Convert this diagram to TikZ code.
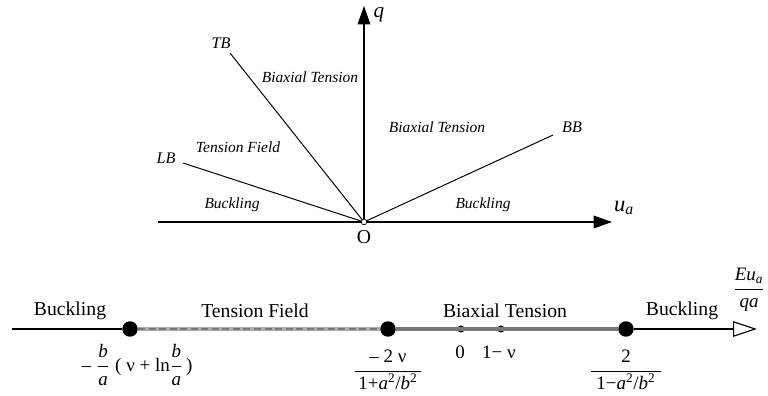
\documentclass[tikz,border=0pt]{standalone}
\usepackage{amsmath}
\usepackage{fontspec}
\setmainfont{Liberation Serif}
\usetikzlibrary{arrows.meta}
\definecolor{bandcol}{RGB}{120,120,120}
\definecolor{dashcol}{RGB}{175,175,175}
\newcommand{\vit}[1]{\textit{#1}}
\newcommand{\tfr}[2]{$\dfrac{\text{#1}}{\text{#2}}$}
\tikzset{
  ax/.style={line width=0.8pt},
  ray/.style={line width=0.7pt},
  reg/.style={font=\fontsize{11}{13}\selectfont\itshape},
  tag/.style={font=\fontsize{11.5}{13}\selectfont\itshape},
  zone/.style={font=\fontsize{14}{16}\selectfont},
  val/.style={font=\fontsize{13.5}{15}\selectfont},
  bigdot/.style={circle,fill=black,inner sep=0pt,minimum size=11},
  smalldot/.style={circle,fill=black,inner sep=0pt,minimum size=5}
}
\begin{document}
\begin{tikzpicture}[x=0.25mm,y=0.25mm]
  \useasboundingbox (0,0) rectangle (768,395);
  % upper diagram: q over u_a
  \coordinate (O) at (364,173);
  \coordinate (xl) at (158,173);\coordinate (xr) at (612,173);
  \coordinate (yt) at (364,389);
  \coordinate (tb) at (230,342);\coordinate (lb) at (183,232);\coordinate (bb) at (553,260);
  \draw[ax,-{Triangle[length=13,width=9]}] (xl)--(xr);
  \draw[ax,-{Triangle[length=13,width=9]}] (O)--(yt);
  \draw[ray] (tb)--(O);
  \draw[ray] (lb)--(O);
  \draw[ray] (bb)--(O);
  \node[circle,draw,fill=white,inner sep=0pt,minimum size=4,line width=0.5pt] (o) at (O) {};
  \node[font=\fontsize{14}{16}\selectfont] (olab) at (364,158) {O};
  \node[font=\fontsize{15}{17}\selectfont\itshape,inner sep=0pt] (qlab) at (379,380) {q};
  \node[font=\fontsize{16}{18}\selectfont] (ulab) at (624,187) {\vit{u}\textsubscript{\vit{a}}};
  \node[tag] (tbl) at (221,352) {TB};
  \node[tag] (lbl) at (166,237) {LB};
  \node[tag] (bbl) at (572,268) {BB};
  \node[reg] (bt1) at (310,318) {Biaxial Tension};
  \node[reg] (bt2) at (437,268) {Biaxial Tension};
  \node[reg] (tf) at (238,248) {Tension Field};
  \node[reg] (bk1) at (232,190) {Buckling};
  \node[reg] (bk2) at (483,190) {Buckling};
  % lower line: E u_a / q a
  \coordinate (s) at (12,66);\coordinate (e) at (757,66);
  \node[bigdot] (p1) at (130,66) {};
  \node[bigdot] (p2) at (388,66) {};
  \node[smalldot] (p3) at (461,66) {};
  \node[smalldot] (p4) at (501,66) {};
  \node[bigdot] (p5) at (626,66) {};
  \draw[ax] (s)--(p1);
  \draw[dashcol,line width=2.2pt] (p1)--(p2);
  \draw[bandcol,line width=1.3pt,dash pattern=on 5pt off 2.5pt] (p1)--(p2);
  \draw[bandcol,line width=2.6pt] (p2)--(p5);
  \draw[ax,-{Triangle[open,length=17,width=11]}] (p5)--(e);
  \node[zone] (z1) at (70,84) {Buckling};
  \node[zone] (z2) at (255,84) {Tension Field};
  \node[zone] (z3) at (505,84) {Biaxial Tension};
  \node[zone] (z4) at (682,84) {Buckling};
  \node[val,inner sep=1pt] (ylab) at (749,105) {\tfr{\vit{Eu}\textsubscript{\vit{a}}}{\vit{qa}}};
  \node[val] (v1) at (137,30) {$\text{–}\;\dfrac{\text{\vit{b}}}{\text{\vit{a}}}\;\text{( ν + ln}\dfrac{\text{\vit{b}}}{\text{\vit{a}}}\,\text{)}$};
  \node[val] (v2) at (388,25) {\tfr{– 2 ν}{\,1+\vit{a}\textsuperscript{2}/\vit{b}\textsuperscript{2}\,}};
  \node[val] (v3) at (460,43) {0};
  \node[val] (v4) at (499,43) {1− ν};
  \node[val] (v5) at (626,25) {\tfr{2}{\;1−\vit{a}\textsuperscript{2}/\vit{b}\textsuperscript{2}\;}};
\end{tikzpicture}
\end{document}
